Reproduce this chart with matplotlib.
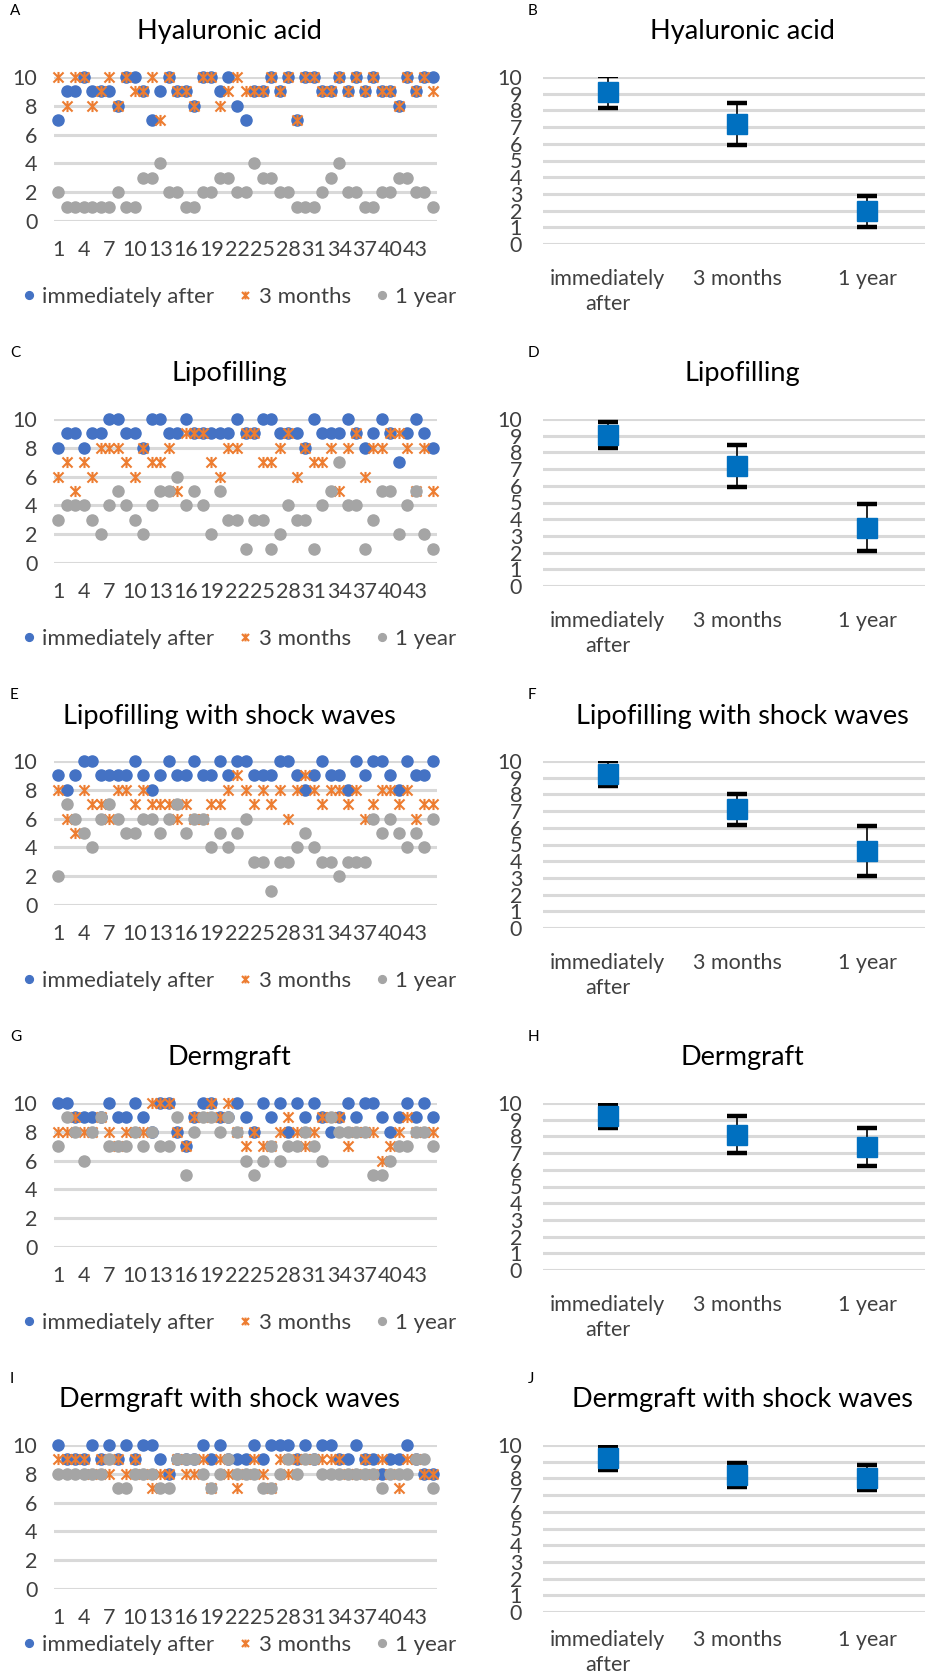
import numpy as np
import matplotlib
matplotlib.use("Agg")
import matplotlib.pyplot as plt
from matplotlib.path import Path

W, H = 925, 1679
BLUE = "#4472C4"
ORANGE = "#ED7D31"
GRAY = "#A5A5A5"
BOX = "#0070C0"
GRID = "#D9D9D9"

plt.rcParams["font.family"] = ["Lato", "DejaVu Sans"]

patients = np.arange(1, 46)

# A - hyaluronic acid
ha_imm = [7, 9, 9, 10, 9, 9, 9, 8, 10, 10, 9, 7, 9, 10, 9, 9, 8, 10, 10, 9, 10, 8, 7,
          9, 9, 10, 9, 10, 7, 10, 10, 9, 9, 10, 9, 10, 9, 10, 9, 9, 8, 10, 9, 10, 10]
ha_3m = [10, 8, 10, 10, 8, 9, 10, 8, 10, 9, 9, 10, 7, 10, 9, 9, 8, 10, 10, 8, 9, 10, 9,
         9, 9, 10, 9, 10, 7, 10, 10, 9, 9, 10, 9, 10, 9, 10, 9, 9, 8, 10, 9, 10, 9]
ha_1y = [2, 1, 1, 1, 1, 1, 1, 2, 1, 1, 3, 3, 4, 2, 2, 1, 1, 2, 2, 3, 3, 2, 2,
         4, 3, 3, 2, 2, 1, 1, 1, 2, 3, 4, 2, 2, 1, 1, 2, 2, 3, 3, 2, 2, 1]

# C - lipofilling
lf_imm = [8, 9, 9, 8, 9, 9, 10, 10, 9, 9, 8, 10, 10, 9, 9, 10, 9, 9, 9, 9, 9, 10, 9,
          9, 10, 10, 9, 9, 9, 8, 10, 9, 9, 9, 10, 9, 8, 9, 10, 9, 7, 9, 10, 9, 8]
lf_3m = [6, 7, 5, 7, 6, 8, 8, 8, 7, 6, 8, 7, 7, 8, 5, 9, 9, 9, 7, 6, 8, 8, 9,
         9, 7, 7, 8, 9, 6, 8, 7, 7, 8, 5, 8, 9, 6, 8, 8, 9, 9, 8, 5, 8, 5]
lf_1y = [3, 4, 4, 4, 3, 2, 4, 5, 4, 3, 2, 4, 5, 5, 6, 4, 5, 4, 2, 5, 3, 3, 1,
         3, 3, 1, 2, 4, 3, 3, 1, 4, 5, 7, 4, 4, 1, 3, 5, 5, 2, 4, 5, 2, 1]

# E - lipofilling with shock waves
lsw_imm = [9, 8, 9, 10, 10, 9, 9, 9, 9, 10, 9, 8, 9, 10, 9, 9, 10, 9, 9, 10, 9, 10, 10,
           9, 9, 9, 10, 10, 9, 8, 9, 10, 9, 9, 8, 10, 9, 10, 10, 9, 8, 10, 9, 9, 10]
lsw_3m = [8, 6, 5, 8, 7, 7, 6, 8, 8, 7, 8, 7, 7, 7, 6, 7, 6, 6, 7, 7, 8, 9, 8,
          7, 8, 7, 8, 6, 8, 9, 8, 7, 8, 8, 7, 8, 6, 7, 8, 8, 7, 8, 6, 7, 7]
lsw_1y = [2, 7, 6, 5, 4, 6, 7, 6, 5, 5, 6, 6, 5, 6, 7, 5, 6, 6, 4, 5, 4, 5, 6,
          3, 3, 1, 3, 3, 4, 5, 4, 3, 3, 2, 3, 3, 3, 6, 5, 6, 5, 4, 5, 4, 6]

# G - dermgraft
dg_imm = [10, 10, 9, 9, 9, 9, 10, 9, 9, 10, 9, 8, 10, 10, 8, 7, 9, 10, 10, 9, 9, 10, 9,
          8, 10, 9, 10, 8, 10, 9, 10, 9, 8, 9, 10, 9, 10, 10, 9, 8, 9, 10, 9, 10, 9]
dg_3m = [8, 8, 9, 8, 8, 9, 8, 7, 8, 8, 8, 10, 10, 10, 8, 7, 9, 9, 10, 9, 10, 8, 7,
         8, 7, 7, 8, 9, 8, 7, 8, 9, 9, 9, 7, 8, 8, 8, 6, 7, 8, 9, 8, 8, 8]
dg_1y = [7, 9, 8, 6, 8, 9, 7, 7, 7, 8, 7, 8, 7, 7, 9, 5, 8, 9, 9, 8, 9, 8, 6,
         5, 6, 7, 6, 7, 7, 8, 7, 6, 9, 8, 8, 8, 8, 5, 5, 6, 7, 7, 8, 8, 7]

# I - dermgraft with shock waves
dsw_imm = [10, 9, 9, 9, 10, 9, 10, 9, 10, 9, 10, 10, 9, 8, 9, 9, 9, 10, 9, 10, 9, 9, 9,
           10, 9, 10, 10, 10, 9, 10, 9, 10, 10, 9, 9, 10, 9, 9, 8, 9, 9, 10, 9, 8, 8]
dsw_3m = [9, 9, 9, 9, 8, 9, 8, 9, 8, 9, 8, 7, 8, 8, 9, 8, 8, 9, 7, 9, 8, 7, 8,
          9, 8, 7, 9, 8, 9, 9, 9, 9, 9, 9, 8, 8, 9, 8, 9, 8, 7, 9, 9, 8, 8]
dsw_1y = [8, 8, 8, 8, 8, 8, 9, 7, 7, 8, 8, 8, 7, 7, 9, 9, 9, 8, 7, 8, 9, 8, 8,
          8, 7, 7, 8, 9, 8, 9, 9, 8, 8, 8, 8, 8, 8, 8, 7, 8, 8, 8, 9, 9, 7]

# right column: mean and sd per time point
times = ["immediately\nafter", "3 months", "1 year"]
ha_mean = [9.1, 7.2, 1.97]
ha_sd = [0.95, 1.27, 0.93]
lf_mean = [9.05, 7.2, 3.5]
lf_sd = [0.8, 1.25, 1.4]
lsw_mean = [9.25, 7.1, 4.6]
lsw_sd = [0.75, 0.95, 1.5]
dg_mean = [9.2, 8.1, 7.35]
dg_sd = [0.7, 1.1, 1.15]
dsw_mean = [9.2, 8.2, 8.05]
dsw_sd = [0.7, 0.7, 0.75]

titles = ["Hyaluronic acid", "Lipofilling", "Lipofilling with shock waves",
          "Dermgraft", "Dermgraft with shock waves"]
left_data = [(ha_imm, ha_3m, ha_1y), (lf_imm, lf_3m, lf_1y), (lsw_imm, lsw_3m, lsw_1y),
             (dg_imm, dg_3m, dg_1y), (dsw_imm, dsw_3m, dsw_1y)]
right_data = [(ha_mean, ha_sd), (lf_mean, lf_sd), (lsw_mean, lsw_sd),
              (dg_mean, dg_sd), (dsw_mean, dsw_sd)]
letters = "ABCDEFGHIJ"

# excel style star: an x with a vertical bar
star = Path([(-1, -1), (1, 1), (-1, 1), (1, -1), (0, -1.1), (0, 1.1)],
            [Path.MOVETO, Path.LINETO, Path.MOVETO, Path.LINETO, Path.MOVETO, Path.LINETO])


def rect(left, top, right, bottom):
    return [left / W, 1 - bottom / H, (right - left) / W, (bottom - top) / H]


def clean(ax):
    for s in ax.spines.values():
        s.set_visible(False)
    ax.tick_params(length=0, labelsize=15.5, colors="#404040")
    ax.set_axisbelow(True)


fig = plt.figure(figsize=(W / 100, H / 100), dpi=100)

step = 342
for r in range(5):
    off = r * step
    last = r == 4

    # left: individual scores
    ax = fig.add_axes(rect(54, 77 + off, 437, 221 + off))
    imm, m3, y1 = left_data[r]
    ax.plot(patients, imm, "o", color=BLUE, ms=8, ls="none", label="immediately after", clip_on=False, zorder=3)
    ax.plot(patients, m3, marker=star, color=ORANGE, ms=8, mew=1.5, ls="none", label="3 months", clip_on=False, zorder=4)
    ax.plot(patients, y1, "o", color=GRAY, ms=8, ls="none", label="1 year", clip_on=False, zorder=5)
    ax.set_xlim(0.5, 45.5)
    ax.set_ylim(0, 10)
    ax.set_yticks(range(0, 11, 2))
    ax.set_xticks(patients[::3])
    ax.grid(axis="y", color=GRID, lw=2.2)
    clean(ax)
    ax.tick_params(axis="x", pad=14)
    ax.tick_params(axis="y", pad=12)
    leg_y = 297 + off if not last else 1645
    leg = ax.legend(loc="center", bbox_to_anchor=(237 / W, 1 - leg_y / H),
                    bbox_transform=fig.transFigure, ncol=3, frameon=False, fontsize=16,
                    handletextpad=0.1, columnspacing=0.9, markerscale=0.7, handlelength=1.0)
    for t in leg.get_texts():
        t.set_color("#404040")
    fig.text(229 / W, 1 - (32 + off) / H, titles[r], ha="center", va="center", fontsize=19.5, color="#000000")
    fig.text(10 / W, 1 - (11 + off) / H, letters[2 * r], ha="left", va="center", fontsize=11)

    # right: mean with error bars
    ax2 = fig.add_axes(rect(543, 77 + off, 932, 244 + off))
    mean, sd = right_data[r]
    xs = np.arange(len(times))
    ax2.errorbar(xs, mean, yerr=sd, fmt="s", color=BOX, ms=15, ecolor="black", elinewidth=1.2,
                 capsize=7, capthick=3.2, zorder=3)
    ax2.set_xlim(-0.5, 2.5)
    ax2.set_ylim(0, 10)
    ax2.set_yticks(range(0, 11))
    ax2.set_xticks(xs)
    ax2.set_xticklabels(times, linespacing=1.3)
    ax2.grid(axis="y", color=GRID, lw=2.2)
    clean(ax2)
    ax2.tick_params(axis="x", pad=18 if not last else 13)
    ax2.tick_params(axis="y", pad=15)
    fig.text(742 / W, 1 - (32 + off) / H, titles[r], ha="center", va="center", fontsize=19.5, color="#000000")
    fig.text(528 / W, 1 - (11 + off) / H, letters[2 * r + 1], ha="left", va="center", fontsize=11)

fig.savefig("out.png", dpi=100)
